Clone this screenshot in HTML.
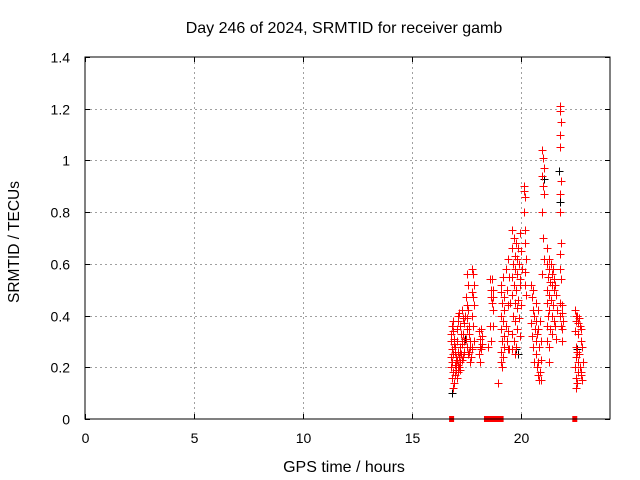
<!DOCTYPE html>
<html><head><meta charset="utf-8"><style>
body{margin:0;background:#fff}
svg{display:block;font-family:"Liberation Sans",sans-serif}
</style></head><body>
<svg id="chart" width="640" height="480">
<rect x="0" y="0" width="640" height="480" fill="#fff"/>
<text x="344" y="33" text-anchor="middle" font-size="16">Day 246 of 2024, SRMTID for receiver gamb</text>
<text x="0" y="0" transform="translate(19,242) rotate(-90)" text-anchor="middle" font-size="15.5">SRMTID / TECUs</text>
<text x="344" y="472" text-anchor="middle" font-size="16">GPS time / hours</text>
<g id="grid"></g>
<g id="axes"></g>
<g id="marks"></g>
<rect x="85" y="57" width="525" height="362" fill="none" stroke="#000" stroke-width="1"/>
</svg>
<script>
const xTicks=[0,5,10,15,20];
const yTicks=[0,0.2,0.4,0.6,0.8,1,1.2,1.4];
const yTickLabels=["0","0.2","0.4","0.6","0.8","1","1.2","1.4"];
const clusterTimes=[16.8,16.85,16.9,16.95,17.0,17.05,17.1,17.15,17.2,17.25,17.3,17.35,17.4,17.5,17.55,17.6,17.65,17.7,17.8,18.1,18.2,18.5,18.6,18.7,18.95,19.1,19.2,19.35,19.45,19.6,19.7,19.8,19.9,20.0,20.15,20.2,20.5,20.6,20.7,20.8,20.9,21.0,21.2,21.3,21.4,21.5,21.6,21.8,21.9,22.5,22.6,22.7,22.8];
const clusterValues=[
[0.24,0.20,0.16,0.30,0.33],[0.22,0.27,0.12,0.36],[0.18,0.25,0.29,0.34,0.38],[0.14,0.21,0.26,0.31],
[0.17,0.20,0.24,0.28,0.22],[0.19,0.23,0.30],[0.16,0.21,0.26,0.35,0.40],[0.18,0.24,0.28,0.38],
[0.20,0.22,0.33,0.41,0.26],[0.19,0.25,0.30,0.36],[0.23,0.29,0.39,0.42],[0.24,0.33,0.37],[0.26,0.30,0.40],
[0.31,0.35,0.44,0.47,0.39],[0.28,0.42,0.52,0.56],[0.25,0.33,0.36],[0.26,0.30,0.28],[0.22,0.24,0.27],
[0.58,0.56,0.52,0.49,0.47,0.44,0.40,0.36,0.30,0.28],[0.34,0.31,0.28,0.25,0.22],[0.35,0.32,0.29,0.27],[0.28],
[0.54,0.50,0.47,0.36,0.30],[0.54,0.50,0.47,0.45,0.42,0.36],[0.14],
[0.52,0.49,0.45,0.40,0.35,0.30,0.26,0.22,0.20],[0.55,0.47,0.42,0.38,0.32,0.28,0.24],[0.58,0.50,0.44,0.36,0.30,0.27],[0.62,0.55,0.45,0.34,0.27],
[0.73,0.66,0.60,0.55,0.48,0.40,0.33,0.27],[0.70,0.63,0.58,0.52,0.45,0.38,0.30,0.25],[0.68,0.62,0.56,0.50,0.43,0.35,0.28],[0.66,0.60,0.54,0.46,0.39,0.32],
[0.72,0.65,0.58,0.52,0.44],[0.90,0.88,0.86,0.80],[0.73,0.68,0.62,0.57,0.52,0.48],
[0.52,0.47,0.42,0.37,0.32],[0.50,0.40,0.35,0.28,0.22],[0.45,0.38,0.33,0.30,0.25,0.20],[0.42,0.35,0.28,0.22,0.17,0.15],[0.38,0.30,0.23,0.18,0.15],
[1.04,1.01,0.97,0.94,0.90,0.87,0.80,0.70,0.62,0.56],
[0.66,0.60,0.55,0.50,0.45,0.40,0.36,0.30],[0.62,0.58,0.53,0.48,0.42,0.35,0.28,0.22],[0.60,0.56,0.52,0.46,0.40,0.33],[0.58,0.54,0.50,0.44,0.38],[0.52,0.48,0.42,0.36,0.31],
[1.21,1.19,1.15,1.10,1.05,0.92,0.87,0.80,0.68,0.64,0.58,0.54,0.45,0.40,0.36],[0.44,0.41,0.38,0.35,0.30],
[0.42,0.40,0.38,0.34,0.28,0.24,0.20,0.16,0.12],[0.40,0.37,0.33,0.26,0.22,0.18,0.14],[0.39,0.36,0.30,0.25,0.20,0.17],[0.35,0.28,0.22,0.18,0.15]
];
const blackTimes=[16.85,17.45,19.75,19.85,21.05,21.75,21.8,22.55];
const blackValues=[0.10,0.31,0.27,0.25,0.93,0.96,0.84,0.27];
const zeroStarts=[16.7,18.3,22.35];
const zeroEnds=[16.8,19.2,22.45];

const X0=85,X1=610,Y0=419,Y1=57,XMAX=24.08,YMAX=1.4;
const sx=v=>X0+v/XMAX*(X1-X0);
const sy=v=>Y0-v/YMAX*(Y0-Y1);
const NS="http://www.w3.org/2000/svg";
function mk(tag,attrs,parent){const e=document.createElementNS(NS,tag);for(const k in attrs)e.setAttribute(k,attrs[k]);parent.appendChild(e);return e;}
const grid=document.getElementById('grid'),axes=document.getElementById('axes'),marks=document.getElementById('marks');
yTicks.forEach((t,i)=>{
  const y=Math.round(sy(t))+0.5;
  if(i>0&&i<yTicks.length-1){const g=mk('line',{x1:X0,x2:X1,y1:y,y2:y,stroke:'#a0a0a0','stroke-dasharray':'2,3'},grid);
  
  }
  const tk=mk('path',{d:`M${X0},${y}h5M${X1},${y}h-5`,stroke:'#000'},axes);
  
  
  const tl=mk('text',{x:X0-15,y:y+5,'text-anchor':'end','font-size':'14'},axes);
  tl.textContent=yTickLabels[i];
  
  
});
xTicks.forEach(t=>{
  const x=Math.round(sx(t))+0.5;
  if(t>0){const g=mk('line',{x1:x,x2:x,y1:Y1,y2:Y0,stroke:'#a0a0a0','stroke-dasharray':'2,3'},grid);
  
  }
  const tk=mk('path',{d:`M${x},${Y0}v-5M${x},${Y1}v5`,stroke:'#000'},axes);
  
  
  const tl=mk('text',{x:x,y:Y0+24,'text-anchor':'middle','font-size':'14'},axes);
  tl.textContent=String(t);
  
  
});
function plus(t,v,color,name){
  const x=Math.round(sx(t))+0.5,y=Math.round(sy(v))+0.5;
  const p=mk('path',{d:`M${x-4},${y}h8M${x},${y-4}v8`,stroke:color,'stroke-width':'1'},marks);
  
  
}
blackTimes.forEach((t,i)=>plus(t,blackValues[i],'#000','black-point'));
clusterTimes.forEach((t,i)=>clusterValues[i].forEach((v,j)=>plus(t+(j%3-1)*0.03,v,'#f00','red-point')));
zeroStarts.forEach((s,i)=>{
  const x=sx(s),w=sx(zeroEnds[i])-x;
  const r=mk('rect',{x:x,y:Y0-3,width:Math.max(w,5),height:6,fill:'#f00'},marks);
  
  
});
</script>
</body></html>
